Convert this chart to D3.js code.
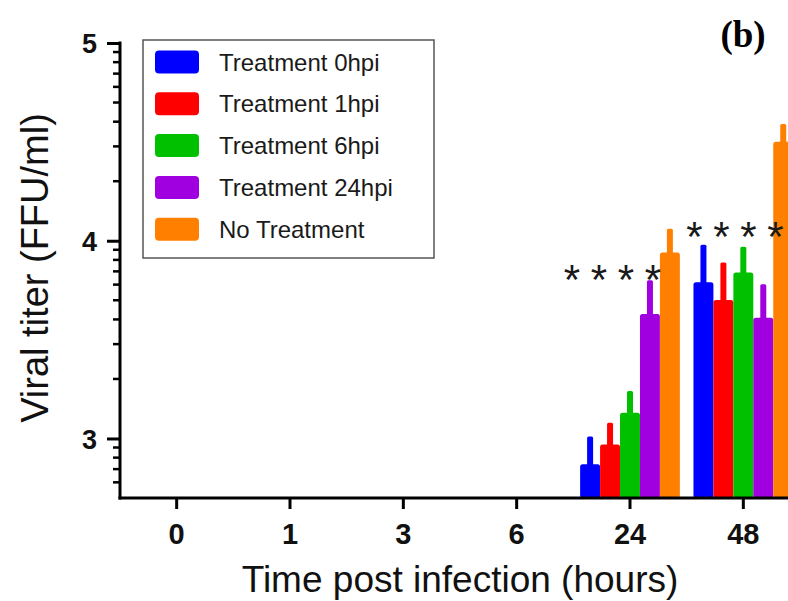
<!DOCTYPE html>
<html>
<head>
<meta charset="utf-8">
<script src="https://cdn.jsdelivr.net/npm/d3@7/dist/d3.min.js"></script>
<style>
  html, body { margin: 0; padding: 0; background: #fff; }
  svg { display: block; }
</style>
</head>
<body>
<svg id="chart" width="788" height="601"></svg>
<script>
// ---- data (log10 viral titer, FFU/ml) ----
const categories = ["0", "1", "3", "6", "24", "48"];
const seriesNames = ["Treatment 0hpi", "Treatment 1hpi", "Treatment 6hpi", "Treatment 24hpi", "No Treatment"];
const seriesColors = ["#0000ff", "#ff0000", "#00c000", "#a000e0", "#ff8000"];
// mean values per category (null = below detection / not drawn)
const treat0hpi  = [null, null, null, null, 2.87, 3.79];
const treat1hpi  = [null, null, null, null, 2.97, 3.70];
const treat6hpi  = [null, null, null, null, 3.13, 3.84];
const treat24hpi = [null, null, null, null, 3.63, 3.61];
const noTreat    = [null, null, null, null, 3.94, 4.50];
// upper error values
const err0hpi  = [null, null, null, null, 3.01, 3.98];
const err1hpi  = [null, null, null, null, 3.08, 3.89];
const err6hpi  = [null, null, null, null, 3.24, 3.97];
const err24hpi = [null, null, null, null, 3.80, 3.78];
const errNo    = [null, null, null, null, 4.06, 4.59];
const yTickLabels = ["3", "4", "5"];
const yMajorTicks = [3, 4, 5];
const starCategories = ["24", "48"];
const starLevels = [3.85, 4.07];
const starCount = 4;

(function () {
const means = [treat0hpi, treat1hpi, treat6hpi, treat24hpi, noTreat];
const errs = [err0hpi, err1hpi, err6hpi, err24hpi, errNo];

// ---- layout ----
const svg = d3.select("#chart");
const pLeft = 120, pRight = 800, pTop = 43, pBottom = 498;
const yMin = Math.log10(500), yMax = 5;

const x = d3.scaleBand().domain(categories).range([pLeft, pRight]).paddingInner(0.12).paddingOuter(0.06);
const xs = d3.scaleBand().domain(d3.range(seriesNames.length)).range([0, x.bandwidth()]);
const y = d3.scaleLinear().domain([yMin, yMax]).range([pBottom, pTop]);

// ---- bars ----
const gBars = svg.append("g");
const errW = 6;
seriesNames.forEach((name, si) => {
  categories.forEach((c, ci) => {
    const v = means[si][ci];
    if (v == null) return;
    const bx = x(c) + xs(si);
    const bw = xs.bandwidth();
    const e = errs[si][ci];
    gBars.append("rect")
      .attr("x", bx + bw / 2 - errW / 2)
      .attr("y", y(e))
      .attr("width", errW)
      .attr("height", y(v) - y(e) + 4)
      .attr("rx", 1.5)
      .attr("fill", seriesColors[si]);
    gBars.append("rect")
      .attr("x", bx)
      .attr("y", y(v))
      .attr("width", bw)
      .attr("height", pBottom - y(v))
      .attr("rx", 2.5)
      .attr("fill", seriesColors[si]);
  });
});

// ---- asterisks ----
const starShift = { "24": -58, "48": -49 };
starCategories.forEach((c, i) => {
  for (let k = 0; k < starCount; k++) {
    svg.append("text")
      .attr("x", x(c) + x.bandwidth() / 2 + starShift[c] + k * 27)
      .attr("y", y(starLevels[i]) + 24)
      .attr("text-anchor", "middle")
      .attr("font-family", "Liberation Sans, Arial, sans-serif")
      .attr("font-size", 42)
      .attr("fill", "#1a1a1a")
      .text("*");
  }
});

// ---- axes ----
const axisColor = "#000";
svg.append("line").attr("x1", pLeft).attr("x2", pLeft).attr("y1", pTop - 1.5).attr("y2", pBottom + 1.5)
  .attr("stroke", axisColor).attr("stroke-width", 3);
svg.append("line").attr("x1", pLeft - 1.5).attr("x2", pRight).attr("y1", pBottom).attr("y2", pBottom)
  .attr("stroke", axisColor).attr("stroke-width", 3);

// minor ticks on log positions
const logScale = d3.scaleLog().domain([Math.pow(10, yMin), Math.pow(10, yMax)]);
const minor = logScale.ticks().map(t => Math.log10(t))
  .filter(t => !yMajorTicks.some(m => Math.abs(m - t) < 1e-6) && t > yMin + 1e-6);
svg.append("g").selectAll("line").data(minor).join("line")
  .attr("x1", pLeft - 7).attr("x2", pLeft)
  .attr("y1", d => y(d)).attr("y2", d => y(d))
  .attr("stroke", axisColor).attr("stroke-width", 2.5);

const yAxis = d3.axisLeft(y).tickValues(yMajorTicks).tickFormat((d, i) => yTickLabels[i]).tickSize(13).tickPadding(10);
const gy = svg.append("g").attr("transform", `translate(${pLeft},0)`).call(yAxis);
gy.select(".domain").remove();
gy.selectAll(".tick line").attr("stroke", axisColor).attr("stroke-width", 3);
gy.selectAll(".tick text").attr("font-family", "Liberation Sans, Arial, sans-serif")
  .attr("font-weight", "bold").attr("font-size", 27).attr("fill", "#111").attr("dy", "0.36em");

const xAxis = d3.axisBottom(x).tickSize(11).tickPadding(14);
const gx = svg.append("g").attr("transform", `translate(0,${pBottom})`).call(xAxis);
gx.select(".domain").remove();
gx.selectAll(".tick line").attr("stroke", axisColor).attr("stroke-width", 3);
gx.selectAll(".tick text").attr("font-family", "Liberation Sans, Arial, sans-serif")
  .attr("font-weight", "bold").attr("font-size", 29).attr("fill", "#111");

// ---- axis titles ----
svg.append("text")
  .attr("x", (pLeft + pRight) / 2).attr("y", 592)
  .attr("text-anchor", "middle")
  .attr("font-family", "Liberation Sans, Arial, sans-serif")
  .attr("font-size", 37).attr("fill", "#111")
  .text("Time post infection (hours)");

svg.append("text")
  .attr("transform", `translate(48,268) rotate(-90)`)
  .attr("text-anchor", "middle")
  .attr("font-family", "Liberation Sans, Arial, sans-serif")
  .attr("font-size", 38).attr("fill", "#111")
  .text("Viral titer (FFU/ml)");

// ---- panel label ----
svg.append("text")
  .attr("x", 743).attr("y", 47)
  .attr("text-anchor", "middle")
  .attr("font-family", "Liberation Serif, Times New Roman, serif")
  .attr("font-weight", "bold").attr("font-size", 37).attr("fill", "#000")
  .text("(b)");

// ---- legend ----
const lg = svg.append("g");
lg.append("rect").attr("x", 143).attr("y", 40).attr("width", 291).attr("height", 218)
  .attr("fill", "#fff").attr("stroke", "#555").attr("stroke-width", 1.5);
seriesNames.forEach((name, i) => {
  const cy = 62 + i * 41.8;
  lg.append("rect").attr("x", 155).attr("y", cy - 11.5).attr("width", 44).attr("height", 23)
    .attr("rx", 4).attr("fill", seriesColors[i]);
  lg.append("text").attr("x", 219).attr("y", cy + 8.5)
    .attr("font-family", "Liberation Sans, Arial, sans-serif")
    .attr("font-size", 24).attr("fill", "#1a1a1a")
    .text(name);
});
})();
</script>
</body>
</html>
